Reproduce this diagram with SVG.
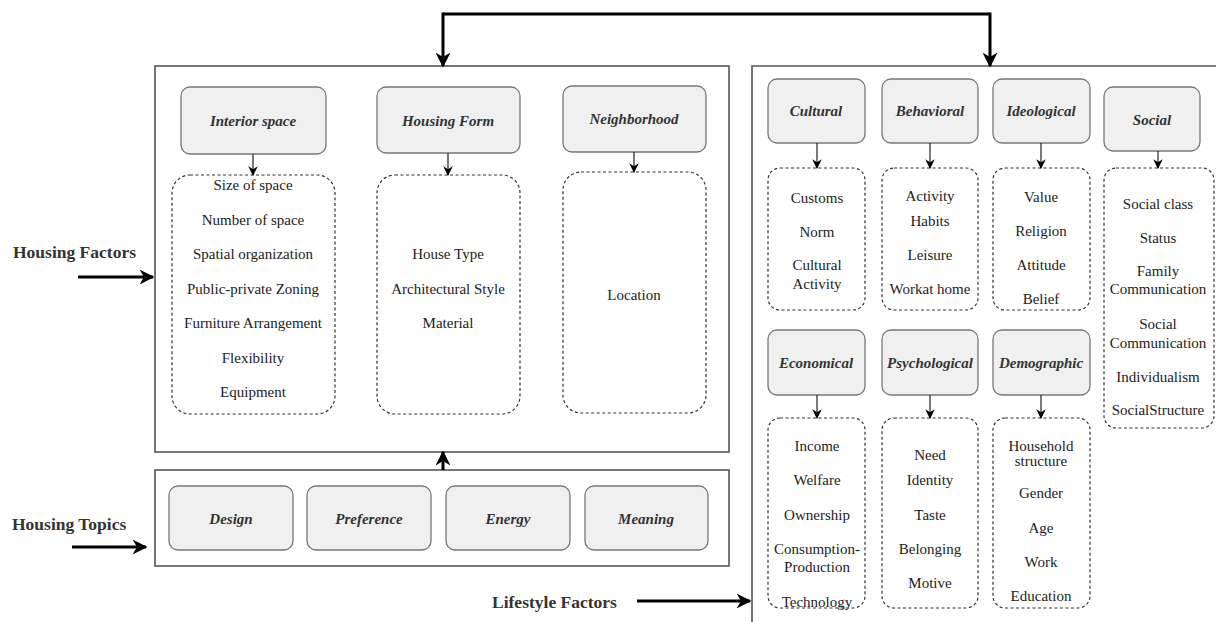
<svg xmlns="http://www.w3.org/2000/svg" width="1216" height="622" viewBox="0 0 1216 622">
<defs>
<marker id="big" viewBox="0 0 10 10" refX="9" refY="5" markerWidth="5" markerHeight="5" orient="auto" markerUnits="strokeWidth"><path d="M0,0 L10,5 L0,10 L3,5 Z" fill="#000"/></marker>
<marker id="sm" viewBox="0 0 10 10" refX="9" refY="5" markerWidth="8" markerHeight="8" orient="auto" markerUnits="strokeWidth"><path d="M0,0 L10,5 L0,10 L3,5 Z" fill="#000"/></marker>
</defs>
<style>
.frame{fill:#fff;stroke:#555;stroke-width:1.6}
.hd{fill:#f0f0f0;stroke:#777;stroke-width:1.3}
.ds{fill:#fff;stroke:#333;stroke-width:1.2;stroke-dasharray:3 2.5}
.ht{font-family:"Liberation Serif","Times New Roman",serif;font-weight:bold;font-style:italic;font-size:15px;fill:#333;text-anchor:middle}
.it{font-family:"Liberation Serif","Times New Roman",serif;font-size:15px;fill:#222;text-anchor:middle}
.lb{font-family:"Liberation Serif","Times New Roman",serif;font-weight:bold;font-size:17.5px;fill:#333}
.ca{stroke:#000;stroke-width:3;fill:none}
.sa{stroke:#222;stroke-width:1.2;fill:none}
</style>
<rect width="1216" height="622" fill="#fff"/>
<g id="housing-factors-box">
<rect class="frame" x="155" y="66" width="574" height="386"/>
</g>
<g id="housing-topics-box">
<rect class="frame" x="155" y="470" width="574" height="96"/>
</g>
<g id="lifestyle-box">
<path class="frame" d="M1218,66 L752,66 L752,624" />
</g>
<g id="interior-space"><rect class="hd" x="181" y="87" width="145" height="67" rx="9"/><text class="ht" x="253" y="126">Interior space</text></g>
<g id="housing-form"><rect class="hd" x="377" y="87" width="143" height="66" rx="9"/><text class="ht" x="448" y="126">Housing Form</text></g>
<g id="neighborhood"><rect class="hd" x="563" y="86" width="143" height="66" rx="9"/><text class="ht" x="634" y="124">Neighborhood</text></g>
<g id="interior-list"><rect class="ds" x="172" y="175" width="163" height="239" rx="18"/>
<text class="it" x="253" y="190">Size of space</text>
<text class="it" x="253" y="225">Number of space</text>
<text class="it" x="253" y="259">Spatial organization</text>
<text class="it" x="253" y="294">Public-private Zoning</text>
<text class="it" x="253" y="328">Furniture Arrangement</text>
<text class="it" x="253" y="363">Flexibility</text>
<text class="it" x="253" y="397">Equipment</text></g>
<g id="form-list"><rect class="ds" x="377" y="175" width="143" height="239" rx="18"/>
<text class="it" x="448" y="259">House Type</text>
<text class="it" x="448" y="294">Architectural Style</text>
<text class="it" x="448" y="328">Material</text></g>
<g id="neighborhood-list"><rect class="ds" x="563" y="172" width="143" height="241" rx="18"/>
<text class="it" x="634" y="300">Location</text></g>
<g id="design"><rect class="hd" x="169" y="486" width="124" height="64" rx="9"/><text class="ht" x="231" y="524">Design</text></g>
<g id="preference"><rect class="hd" x="307" y="486" width="124" height="64" rx="9"/><text class="ht" x="369" y="524">Preference</text></g>
<g id="energy"><rect class="hd" x="446" y="486" width="124" height="64" rx="9"/><text class="ht" x="508" y="524">Energy</text></g>
<g id="meaning"><rect class="hd" x="585" y="486" width="123" height="64" rx="9"/><text class="ht" x="646" y="524">Meaning</text></g>
<g id="cultural"><rect class="hd" x="768" y="79" width="97" height="64" rx="9"/><text class="ht" x="816" y="116">Cultural</text></g>
<g id="behavioral"><rect class="hd" x="882" y="79" width="96" height="64" rx="9"/><text class="ht" x="930" y="116">Behavioral</text></g>
<g id="ideological"><rect class="hd" x="993" y="79" width="97" height="64" rx="9"/><text class="ht" x="1041" y="116">Ideological</text></g>
<g id="social"><rect class="hd" x="1104" y="87" width="96" height="64" rx="9"/><text class="ht" x="1152" y="125">Social</text></g>
<g id="cultural-list"><rect class="ds" x="768" y="168" width="97" height="142" rx="12"/>
<text class="it" x="817" y="203">Customs</text>
<text class="it" x="817" y="237">Norm</text>
<text class="it" x="817" y="270">Cultural</text>
<text class="it" x="817" y="289">Activity</text></g>
<g id="behavioral-list"><rect class="ds" x="882" y="168" width="96" height="142" rx="12"/>
<text class="it" x="930" y="201">Activity</text>
<text class="it" x="930" y="226">Habits</text>
<text class="it" x="930" y="260">Leisure</text>
<text class="it" x="930" y="294">Workat home</text></g>
<g id="ideological-list"><rect class="ds" x="993" y="168" width="97" height="142" rx="12"/>
<text class="it" x="1041" y="202">Value</text>
<text class="it" x="1041" y="236">Religion</text>
<text class="it" x="1041" y="270">Attitude</text>
<text class="it" x="1041" y="304">Belief</text></g>
<g id="social-list"><rect class="ds" x="1104" y="168" width="110" height="260" rx="12"/>
<text class="it" x="1158" y="209">Social class</text>
<text class="it" x="1158" y="243">Status</text>
<text class="it" x="1158" y="276">Family</text>
<text class="it" x="1158" y="294">Communication</text>
<text class="it" x="1158" y="329">Social</text>
<text class="it" x="1158" y="348">Communication</text>
<text class="it" x="1158" y="382">Individualism</text>
<text class="it" x="1158" y="415">SocialStructure</text></g>
<g id="economical"><rect class="hd" x="768" y="330" width="97" height="65" rx="9"/><text class="ht" x="816" y="368">Economical</text></g>
<g id="psychological"><rect class="hd" x="882" y="330" width="96" height="65" rx="9"/><text class="ht" x="930" y="368">Psychological</text></g>
<g id="demographic"><rect class="hd" x="993" y="330" width="97" height="65" rx="9"/><text class="ht" x="1041" y="368">Demographic</text></g>
<g id="economical-list"><rect class="ds" x="768" y="418" width="97" height="190" rx="12"/>
<text class="it" x="817" y="451">Income</text>
<text class="it" x="817" y="485">Welfare</text>
<text class="it" x="817" y="520">Ownership</text>
<text class="it" x="817" y="554">Consumption-</text>
<text class="it" x="817" y="572">Production</text>
<text class="it" x="817" y="607">Technology</text></g>
<g id="psychological-list"><rect class="ds" x="882" y="418" width="96" height="190" rx="12"/>
<text class="it" x="930" y="460">Need</text>
<text class="it" x="930" y="485">Identity</text>
<text class="it" x="930" y="520">Taste</text>
<text class="it" x="930" y="554">Belonging</text>
<text class="it" x="930" y="588">Motive</text></g>
<g id="demographic-list"><rect class="ds" x="993" y="418" width="97" height="190" rx="12"/>
<text class="it" x="1041" y="451">Household</text>
<text class="it" x="1041" y="466">structure</text>
<text class="it" x="1041" y="498">Gender</text>
<text class="it" x="1041" y="533">Age</text>
<text class="it" x="1041" y="567">Work</text>
<text class="it" x="1041" y="601">Education</text></g>
<g id="labels">
<text class="lb" x="13" y="258">Housing Factors</text>
<text class="lb" x="12" y="530">Housing Topics</text>
<text class="lb" x="492" y="608">Lifestyle Factors</text>
</g>
<g id="connectors">
<path class="ca" d="M443,14 L990,14"/>
<path class="ca" d="M443,12.5 L443,66" marker-end="url(#big)"/>
<path class="ca" d="M990,12.5 L990,66" marker-end="url(#big)"/>
<path class="ca" d="M443,470 L443,452" marker-end="url(#big)"/>
<path class="ca" d="M78,277 L153,277" stroke-width="2.5" marker-end="url(#big)"/>
<path class="ca" d="M72,547 L146,547" stroke-width="2.5" marker-end="url(#big)"/>
<path class="ca" d="M637,601 L750,601" stroke-width="2.5" marker-end="url(#big)"/>
<path class="sa" d="M253,154 L253,175" marker-end="url(#sm)"/>
<path class="sa" d="M448,153 L448,175" marker-end="url(#sm)"/>
<path class="sa" d="M634,152 L634,172" marker-end="url(#sm)"/>
<path class="sa" d="M817,143 L817,168" marker-end="url(#sm)"/>
<path class="sa" d="M930,143 L930,168" marker-end="url(#sm)"/>
<path class="sa" d="M1041,143 L1041,168" marker-end="url(#sm)"/>
<path class="sa" d="M1158,151 L1158,168" marker-end="url(#sm)"/>
<path class="sa" d="M817,395 L817,418" marker-end="url(#sm)"/>
<path class="sa" d="M930,395 L930,418" marker-end="url(#sm)"/>
<path class="sa" d="M1041,395 L1041,418" marker-end="url(#sm)"/>
</g>
</svg>
